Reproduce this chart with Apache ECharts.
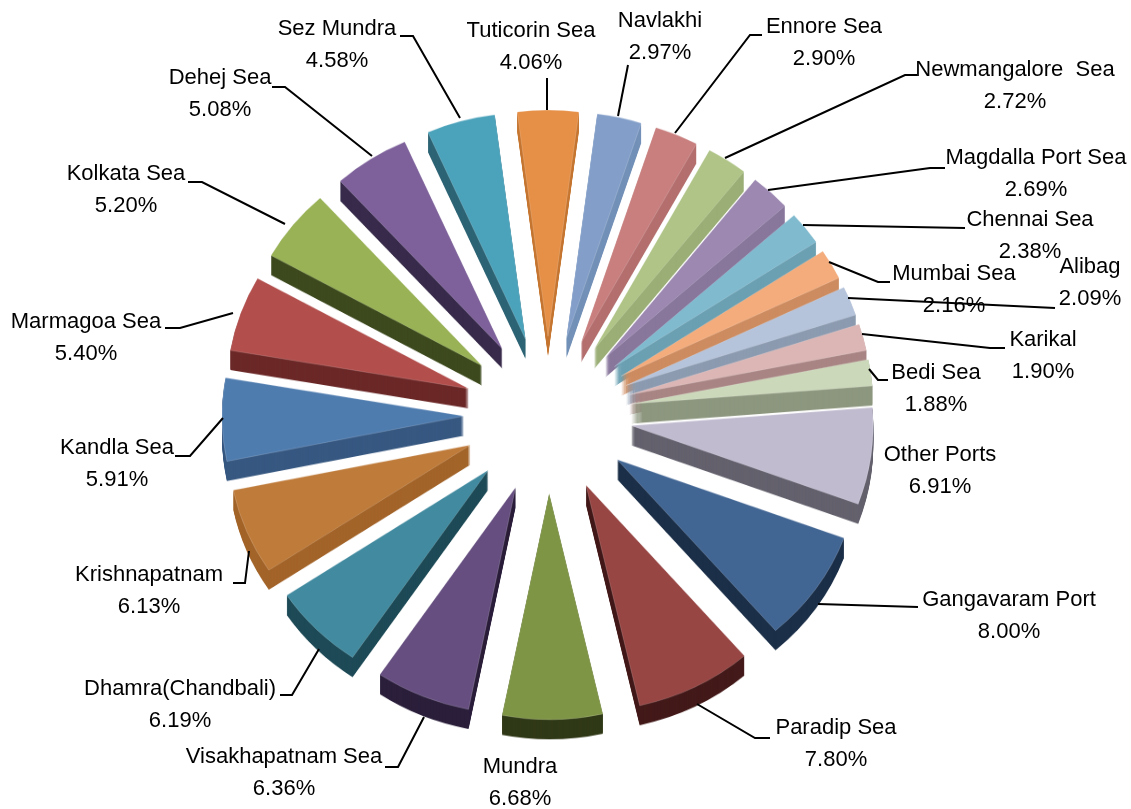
<!DOCTYPE html>
<html><head><meta charset="utf-8">
<style>html,body{margin:0;padding:0;background:#fff;overflow:hidden}
#pie,#labels{position:absolute;left:0;top:0;width:1131px;height:809px}
#pie{transform-origin:0 413px;transform:scaleY(0.935)}</style>
<script src="https://cdn.jsdelivr.net/npm/echarts@6/dist/echarts.min.js"></script>
</head><body><div id="pie"></div><div id="labels"></div>
<script>
const ports = ["Tuticorin Sea","Navlakhi","Ennore Sea","Newmangalore  Sea","Magdalla Port Sea","Chennai Sea","Mumbai Sea","Alibag","Karikal","Bedi Sea","Other Ports","Gangavaram Port","Paradip Sea","Mundra","Visakhapatnam Sea","Dhamra(Chandbali)","Krishnapatnam","Kandla Sea","Marmagoa Sea","Kolkata Sea","Dehej Sea","Sez Mundra"];
const shares = [4.06,2.97,2.90,2.72,2.69,2.38,2.16,2.09,1.90,1.88,6.91,8.00,7.80,6.68,6.36,6.19,6.13,5.91,5.40,5.20,5.08,4.58];
const topColors = ["#E68F46","#839FC9","#C87F7E","#AFC486","#9C88B1","#80BACF","#F4AC7C","#B5C3DB","#DBB6B5","#CCD8BA","#C1BBD0","#426694","#984644","#7F9546","#664F80","#418A9F","#BF7B3A","#4F7CAF","#B24F4D","#98B255","#7E619B","#4BA2BB"];
const wallColors = ["#C67730","#7390B8","#B46F6E","#9BAE76","#88769B","#6BA0B2","#CD8C60","#8C9BB0","#A88584","#8D977F","#64616D","#1B2F48","#431A19","#303917","#2B1F3B","#1D4A56","#A36429","#375881","#6B2827","#3D4A1E","#372A4A","#2D6475"];
const labelCenters = [[531,47],[660,37],[824,43],[1015,86],[1036,174],[1030,236],[954,290],[1090,283],[1043,356],[936,389],[940,471],[1009,616],[836,744],[520,783],[284,773],[180,705],[149,591],[117,464],[86,338],[126,190],[220,94],[337,45]];
const leaders = [
 [[547,78],[547,110]],
 [[628,65],[618,116]],
 [[762,35],[750,35],[675,133]],
 [[917,75],[905,75],[725,158]],
 [[945,168],[930,168],[768,190]],
 [[965,228],[803,225]],
 [[890,282],[878,282],[829,262]],
 [[1055,308],[848,298]],
 [[1005,348],[990,348],[862,334]],
 [[888,380],[878,380],[869,369]],
 [],
 [[918,607],[818,604]],
 [[770,738],[755,738],[697,704]],
 [],
 [[385,767],[398,767],[424,717]],
 [[280,695],[292,695],[319,649]],
 [[233,583],[245,583],[249,551]],
 [[175,456],[190,456],[223,418]],
 [[165,328],[180,328],[233,313]],
 [[188,182],[202,182],[285,224]],
 [[272,87],[285,87],[372,156]],
 [[400,36],[413,36],[460,118]]
];
const CX = 548, CY = 415, R = 242, EXPLODE = 84, DEPTH = 21, START = 97.3;
const sliceData = colors => ports.map((name,i)=>({name,value:shares[i],selected:true,itemStyle:{color:colors[i]},select:{itemStyle:{color:colors[i]}}}));
const base = {type:'pie',radius:[0,R],startAngle:START,clockwise:true,selectedMode:'multiple',selectedOffset:EXPLODE,animation:false,avoidLabelOverlap:false,minShowLabelAngle:0,silent:true,emphasis:{disabled:true},label:{show:false},labelLine:{show:false}};
const walls = [];
for(let d=DEPTH;d>=1;d--){
  walls.push(Object.assign({},base,{center:[CX,CY+d],data:sliceData(wallColors),z:2}));
}
const surface = Object.assign({},base,{center:[CX,CY],z:3,data:sliceData(topColors),itemStyle:{borderColor:'rgba(255,255,255,0.35)',borderWidth:0.5}});
const pieChart = echarts.init(document.getElementById('pie'));
pieChart.setOption({animation:false,backgroundColor:'#fff',series:[...walls,surface]});

const labelChart = echarts.init(document.getElementById('labels'));
labelChart.setOption({animation:false,series:[{
  type:'pie',center:[CX,CY],radius:[0,R],startAngle:START,clockwise:true,animation:false,silent:true,avoidLabelOverlap:false,minShowLabelAngle:0,emphasis:{disabled:true},
  data:ports.map((name,i)=>({name,value:shares[i]})),
  itemStyle:{color:'rgba(0,0,0,0)'},
  label:{show:true,formatter:p=>p.name+'\n'+p.value.toFixed(2)+'%',fontFamily:'"Liberation Sans",Arial,sans-serif',fontSize:22,lineHeight:32,color:'#000',align:'center'},
  labelLine:{show:true,lineStyle:{color:'#000',width:2}},
  labelLayout:p=>{
    const i=p.dataIndex;
    return {x:labelCenters[i][0],y:labelCenters[i][1],align:'center',verticalAlign:'middle',labelLinePoints:leaders[i].length?leaders[i]:[[0,0],[0,0]],hideOverlap:false};
  }
}]});
</script></body></html>
